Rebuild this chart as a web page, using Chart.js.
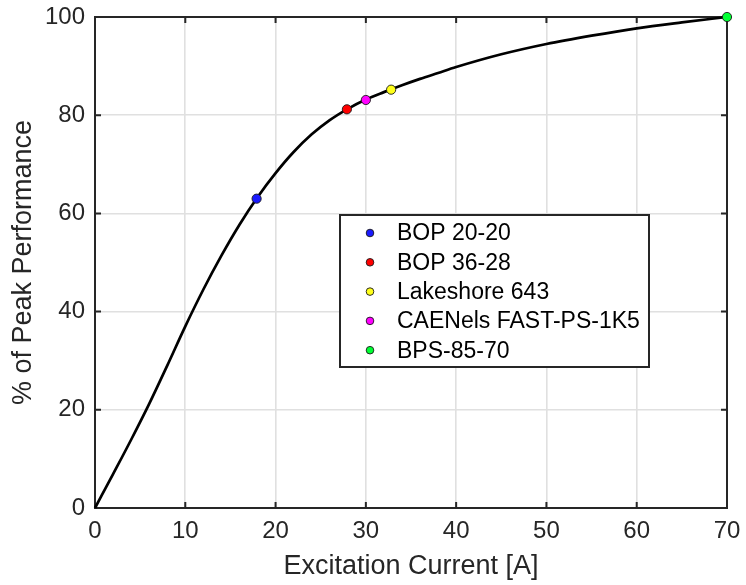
<!DOCTYPE html>
<html>
<head>
<meta charset="utf-8">
<script src="https://cdn.jsdelivr.net/npm/chart.js@4.4.1/dist/chart.umd.min.js"></script>
<style>
  html, body { margin: 0; padding: 0; background: #ffffff; }
  #wrap { width: 746px; height: 585px; }
</style>
</head>
<body>
<div id="wrap"><canvas id="c" width="746" height="585"></canvas></div>
<script>
// ---- Data ----
const curveCurrent = [0, 2, 4, 6, 8, 10, 12, 14, 16, 18, 20, 22, 24, 26, 28, 30, 32, 34, 36, 38, 40, 45, 50, 55, 60, 65, 70];
const curvePerformance = [0, 6.9, 13.9, 21.2, 29.0, 37.0, 44.5, 51.4, 57.7, 63.3, 68.2, 72.5, 76.1, 79.0, 81.3, 83.2, 84.7, 86.1, 87.4, 88.6, 89.8, 92.4, 94.5, 96.2, 97.7, 98.9, 100];

const supplyNames = ["BOP 20-20", "BOP 36-28", "Lakeshore 643", "CAENels FAST-PS-1K5", "BPS-85-70"];
const supplyCurrent = [17.9, 27.9, 32.8, 30.0, 70];
const supplyPerformance = [63.0, 81.2, 85.2, 83.1, 100];
const supplyColors = ["#1a1aff", "#ff0000", "#ffff1a", "#ff00ff", "#00ff33"];

const xTicks = [0, 10, 20, 30, 40, 50, 60, 70];
const yTicks = [0, 20, 40, 60, 80, 100];

const xTitle = "Excitation Current [A]";
const yTitle = "% of Peak Performance";

// ---- Build datasets ----
const datasets = [];
datasets.push({
  type: 'line',
  label: 'curve',
  data: curveCurrent.map((x, i) => ({ x: x, y: curvePerformance[i] })),
  borderColor: '#000000',
  borderWidth: 2.7,
  pointRadius: 0,
  showLine: true,
  fill: false,
  cubicInterpolationMode: 'monotone',
  clip: false,
  order: 2
});
supplyNames.forEach((name, i) => {
  datasets.push({
    type: 'scatter',
    label: name,
    data: [{ x: supplyCurrent[i], y: supplyPerformance[i] }],
    backgroundColor: supplyColors[i],
    borderColor: '#1a1a1a',
    borderWidth: 0.9,
    pointRadius: 4.6,
    clip: false,
    order: 1,
    isSupply: true
  });
});

const AX = '#262626';

// Box with inward ticks (MATLAB style)
const boxPlugin = {
  id: 'boxAxes',
  beforeDatasetsDraw(chart) {
    const { ctx, chartArea: a, scales } = chart;
    ctx.save();
    ctx.strokeStyle = AX;
    ctx.lineWidth = 2;
    const tl = 6;
    ctx.beginPath();
    xTicks.forEach(v => {
      const px = scales.x.getPixelForValue(v);
      ctx.moveTo(px, a.bottom); ctx.lineTo(px, a.bottom - tl);
      ctx.moveTo(px, a.top); ctx.lineTo(px, a.top + tl);
    });
    yTicks.forEach(v => {
      const py = scales.y.getPixelForValue(v);
      ctx.moveTo(a.left, py); ctx.lineTo(a.left + tl, py);
      ctx.moveTo(a.right, py); ctx.lineTo(a.right - tl, py);
    });
    ctx.stroke();
    ctx.strokeRect(a.left, a.top, a.right - a.left, a.bottom - a.top);
    ctx.restore();
  }
};

// Boxed legend inside the plot area
const legendPlugin = {
  id: 'boxLegend',
  afterDatasetsDraw(chart) {
    const { ctx, chartArea: a } = chart;
    const left = a.left + 245, top = a.top + 198, w = 309, h = 152;
    ctx.save();
    ctx.fillStyle = '#ffffff';
    ctx.fillRect(left, top, w, h);
    ctx.strokeStyle = AX;
    ctx.lineWidth = 2;
    ctx.strokeRect(left, top, w, h);
    const items = chart.data.datasets.filter(d => d.isSupply);
    ctx.font = '23px "Liberation Sans", Arial, sans-serif';
    ctx.textBaseline = 'middle';
    ctx.textAlign = 'left';
    items.forEach((d, i) => {
      const cy = top + 18 + i * 29.3;
      ctx.beginPath();
      ctx.arc(left + 30, cy, 3.8, 0, Math.PI * 2);
      ctx.fillStyle = d.backgroundColor;
      ctx.fill();
      ctx.lineWidth = 0.9;
      ctx.strokeStyle = '#1a1a1a';
      ctx.stroke();
      ctx.fillStyle = '#000000';
      ctx.fillText(d.label, left + 57, cy + 1);
    });
    ctx.restore();
  }
};

new Chart(document.getElementById('c'), {
  type: 'scatter',
  data: { datasets: datasets },
  options: {
    responsive: false,
    animation: false,
    devicePixelRatio: 1,
    layout: { padding: { top: 17, right: 19, left: 0, bottom: 0 } },
    plugins: {
      legend: { display: false },
      tooltip: { enabled: false }
    },
    scales: {
      x: {
        type: 'linear',
        min: 0, max: 70,
        afterBuildTicks(scale) { scale.ticks = xTicks.map(v => ({ value: v })); },
        afterFit(scale) { scale.height = 77; scale.paddingLeft = 0; scale.paddingRight = 0; },
        grid: { color: '#e0e0e0', lineWidth: 1.6, drawTicks: false },
        border: { display: false },
        ticks: {
          color: AX,
          padding: 9,
          maxRotation: 0,
          autoSkip: false,
          font: { family: '"Liberation Sans", Arial, sans-serif', size: 24 }
        },
        title: {
          display: true,
          text: xTitle,
          color: AX,
          padding: { top: 0, bottom: 2 },
          font: { family: '"Liberation Sans", Arial, sans-serif', size: 27 }
        }
      },
      y: {
        type: 'linear',
        min: 0, max: 100,
        afterBuildTicks(scale) { scale.ticks = yTicks.map(v => ({ value: v })); },
        afterFit(scale) { scale.width = 95; scale.paddingTop = 0; scale.paddingBottom = 0; },
        grid: { color: '#e0e0e0', lineWidth: 1.6, drawTicks: false },
        border: { display: false },
        ticks: {
          color: AX,
          padding: 10,
          autoSkip: false,
          font: { family: '"Liberation Sans", Arial, sans-serif', size: 24 }
        },
        title: {
          display: true,
          text: yTitle,
          color: AX,
          padding: { top: 7, bottom: 0 },
          font: { family: '"Liberation Sans", Arial, sans-serif', size: 27 }
        }
      }
    }
  },
  plugins: [boxPlugin, legendPlugin]
});
</script>
</body>
</html>
